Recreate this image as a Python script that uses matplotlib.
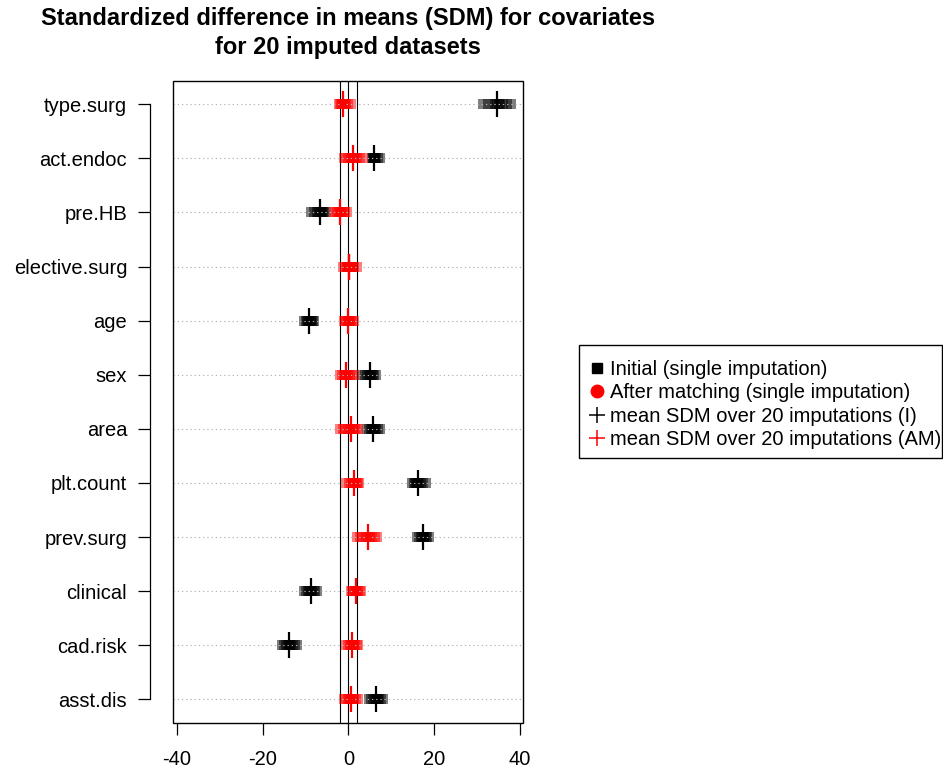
import matplotlib
matplotlib.use('Agg')
import matplotlib.pyplot as plt
from matplotlib.lines import Line2D
from matplotlib.patches import Rectangle

plt.rcParams['font.family'] = ['Liberation Sans', 'DejaVu Sans']

# covariates, listed top to bottom
covariates = ['type.surg', 'act.endoc', 'pre.HB', 'elective.surg', 'age', 'sex',
              'area', 'plt.count', 'prev.surg', 'clinical', 'cad.risk', 'asst.dis']

# SDM per imputation, initial (before matching)
initial_sdm = [
    [31.3, 32.5, 33.6, 34.2, 34.6, 35.0, 35.4, 36.0, 36.9, 37.8],
    [5.4, 5.6, 5.8, 5.9, 6.0, 6.1, 6.2, 6.4, 6.8, 7.3],
    [-8.7, -8.0, -7.4, -7.0, -6.7, -6.5, -6.2, -5.9, -5.6, -5.3],
    [-0.3, -0.1, 0.0, 0.1, 0.1, 0.2, 0.3, 0.4, 0.6, 0.8],
    [-10.3, -10.0, -9.6, -9.4, -9.2, -9.0, -8.8, -8.6, -8.3, -8.0],
    [3.4, 3.9, 4.4, 4.7, 5.0, 5.2, 5.4, 5.7, 6.0, 6.3],
    [4.4, 4.8, 5.2, 5.5, 5.8, 6.0, 6.2, 6.5, 6.9, 7.3],
    [14.9, 15.2, 15.5, 15.8, 16.0, 16.2, 16.5, 16.9, 17.4, 18.0],
    [16.0, 16.4, 16.8, 17.1, 17.3, 17.5, 17.7, 18.0, 18.4, 18.8],
    [-10.3, -9.8, -9.4, -9.1, -8.9, -8.7, -8.4, -8.1, -7.7, -7.3],
    [-15.4, -15.0, -14.5, -14.1, -13.8, -13.6, -13.3, -12.9, -12.5, -12.1],
    [4.8, 5.3, 5.8, 6.1, 6.4, 6.6, 6.9, 7.2, 7.6, 8.0],
]

# SDM per imputation, after matching
matched_sdm = [
    [-2.3, -2.0, -1.7, -1.4, -1.2, -1.0, -0.8, -0.5, 0.0, 0.5],
    [-1.1, -0.5, 0.0, 0.5, 0.9, 1.2, 1.5, 2.0, 2.7, 3.4],
    [-3.3, -3.0, -2.6, -2.2, -2.0, -1.8, -1.5, -1.2, -0.8, -0.3],
    [-1.3, -0.8, -0.4, -0.1, 0.1, 0.3, 0.5, 0.8, 1.3, 2.0],
    [-1.1, -0.8, -0.5, -0.2, 0.0, 0.1, 0.3, 0.6, 1.0, 1.4],
    [-1.9, -1.5, -1.1, -0.8, -0.5, -0.3, 0.0, 0.4, 0.9, 1.4],
    [-1.9, -1.3, -0.7, -0.2, 0.4, 0.7, 1.1, 1.5, 1.9, 2.3],
    [-0.5, 0.2, 0.7, 1.1, 1.4, 1.6, 1.8, 2.0, 2.3, 2.5],
    [2.0, 2.8, 3.5, 4.0, 4.4, 4.7, 5.0, 5.5, 6.1, 6.7],
    [0.6, 0.9, 1.2, 1.5, 1.7, 1.8, 2.0, 2.3, 2.6, 3.0],
    [-0.5, -0.1, 0.3, 0.6, 0.9, 1.1, 1.3, 1.6, 1.9, 2.3],
    [-1.1, -0.6, -0.2, 0.2, 0.5, 0.7, 0.9, 1.3, 1.7, 2.2],
]

# mean SDM over imputations
initial_mean = [34.6, 6.0, -6.6, 0.1, -9.2, 5.0, 5.8, 16.1, 17.4, -8.8, -13.8, 6.5]
matched_mean = [-1.2, 1.05, -1.9, 0.1, 0.0, -0.5, 0.6, 1.4, 4.5, 1.7, 0.9, 0.5]

x_ticks = [-40, -20, 0, 20, 40]
ref_lines = [-2, 0, 2]

legend_labels = ['Initial (single imputation)',
                 'After matching (single imputation)',
                 'mean SDM over 20 imputations (I)',
                 'mean SDM over 20 imputations (AM)']

W, H = 943, 772
fig = plt.figure(figsize=(W / 100, H / 100), dpi=100)
left_px, right_px, top_px, bottom_px = 173.3, 523.3, 80.7, 722.7
ax = fig.add_axes([left_px / W, 1 - bottom_px / H,
                   (right_px - left_px) / W, (bottom_px - top_px) / H])

n = len(covariates)
ypos = list(range(n, 0, -1))

ax.set_xlim(-40.86, 40.77)
ax.set_ylim(0.567, 12.436)

for xv in ref_lines:
    ax.axvline(xv, color='black', lw=0.8, zorder=3)

sq_ms = 6.6
for i, y in enumerate(ypos):
    vals = initial_sdm[i]
    ax.plot(vals, [y] * len(vals), ls='none', marker='s', ms=sq_ms, mew=0,
            color='black', alpha=0.5, zorder=2)
for i, y in enumerate(ypos):
    ax.plot([initial_mean[i]], [y], ls='none', marker='|', ms=19, mew=1.6,
            color='black', zorder=5)
for i, y in enumerate(ypos):
    vals = matched_sdm[i]
    ax.plot(vals, [y] * len(vals), ls='none', marker='s', ms=sq_ms, mew=0,
            color='red', alpha=0.5, zorder=6)
for i, y in enumerate(ypos):
    ax.plot([matched_mean[i]], [y], ls='none', marker='|', ms=19, mew=1.6,
            color='red', zorder=8)

# dotted guide lines over the markers
ax.hlines(ypos, -40.86, 40.77, colors='#b4b4b4', lw=0.8,
          linestyles=(0, (1.2, 2.6)), zorder=7)

# box
ax.add_patch(Rectangle((0, 0), 1, 1, transform=ax.transAxes, fill=False,
                       ec='black', lw=1.0, clip_on=False, zorder=10))
for s in ['top', 'right', 'bottom']:
    ax.spines[s].set_visible(False)
ax.spines['left'].set_position(('outward', 16.8))
ax.spines['left'].set_bounds(1, n)
ax.spines['left'].set_linewidth(0.9)

ax.set_yticks(ypos)
ax.set_yticklabels(covariates)
ax.set_xticks(x_ticks)
ax.set_xticklabels([str(v) for v in x_ticks])
ax.tick_params(axis='y', length=8.9, width=0.9, pad=7.5, labelsize=14.5)
ax.tick_params(axis='x', length=8.6, width=0.9, pad=11, labelsize=14.5)

fig.text(348 / W, 1 - 7 / H,
         'Standardized difference in means (SDM) for covariates\nfor 20 imputed datasets',
         ha='center', va='top', fontsize=17, fontweight='bold', linespacing=1.36)

handles = [
    Line2D([], [], ls='none', marker='s', ms=7, color='black'),
    Line2D([], [], ls='none', marker='o', ms=9, color='red'),
    Line2D([], [], ls='none', marker='+', ms=12, mew=1.1, color='black'),
    Line2D([], [], ls='none', marker='+', ms=12, mew=1.1, color='red'),
]
# legend frame drawn by hand for exact padding
fig.patches.append(Rectangle((579 / W, 1 - 458 / H), (942 - 579) / W,
                             (458 - 344.7) / H, transform=fig.transFigure,
                             fill=False, ec='black', lw=1.0))
leg = fig.legend(handles, legend_labels, loc='upper left',
                 bbox_to_anchor=(589 / W, 1 - 360 / H), fontsize=14.5,
                 frameon=False, handlelength=0.8, handletextpad=0.25,
                 labelspacing=0.22, borderpad=0, borderaxespad=0)

fig.savefig('out.png', dpi=100)
